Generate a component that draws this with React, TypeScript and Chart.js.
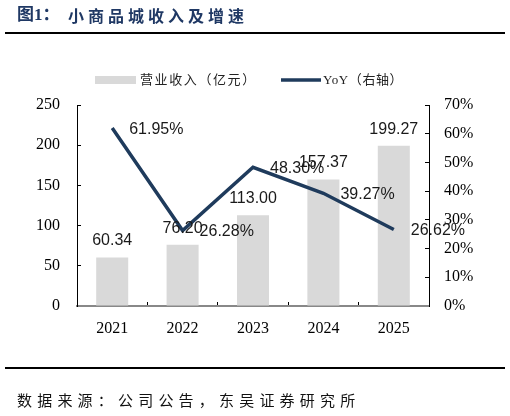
import React, { useEffect, useRef } from "react";
import { Chart, registerables } from "chart.js";

Chart.register(...registerables);

const categories = ["2021", "2022", "2023", "2024", "2025"];
const revenue = [60.34, 76.2, 113.0, 157.37, 199.27];
const yoy = [61.95, 26.28, 48.3, 39.27, 26.62];
const leftTicksMax = 250;
const rightTicksMax = 70;
const revenueName = "营业收入（亿元）";
const yoyName = "YoY（右轴）";
const titleText = "图1：";
const titleRest = "小商品城收入及增速";
const sourceText = "数据来源：公司公告，东吴证券研究所";

const NAVY = "#1f3b5c";
const BAR = "#d9d9d9";

const legendPlugin = {
  id: "customLegend",
  afterDraw(chart: any) {
    const ctx = chart.ctx;
    const ds = chart.data.datasets;
    const bar = ds.find((d: any) => d.type === "bar");
    const line = ds.find((d: any) => d.type === "line");
    ctx.save();
    ctx.font = '13px "Liberation Serif", "Noto Sans CJK SC"';
    ctx.textBaseline = "middle";
    ctx.textAlign = "left";
    try { (ctx as any).letterSpacing = "1.6px"; } catch (e) {}
    ctx.fillStyle = bar.backgroundColor;
    ctx.fillRect(95, 76, 41, 8);
    ctx.fillStyle = "#222";
    ctx.fillText(bar.label, 140, 80.5);
    ctx.strokeStyle = line.borderColor;
    ctx.lineWidth = 3.5;
    ctx.beginPath();
    ctx.moveTo(281, 80);
    ctx.lineTo(321, 80);
    ctx.stroke();
    try { (ctx as any).letterSpacing = "0.6px"; } catch (e) {}
    ctx.fillText(line.label, 323, 80.5);
    ctx.restore();
  },
};

const labelPlugin = {
  id: "valueLabels",
  afterDatasetsDraw(chart: any) {
    const ctx = chart.ctx;
    ctx.save();
    ctx.font = '16px "Liberation Sans", Arial';
    ctx.fillStyle = "#1a1a1a";
    ctx.textBaseline = "middle";
    chart.data.datasets.forEach((d: any, i: number) => {
      const meta = chart.getDatasetMeta(i);
      meta.data.forEach((el: any, j: number) => {
        const v = d.data[j];
        if (d.type === "bar") {
          ctx.textAlign = "center";
          ctx.fillText(v.toFixed(2), el.x, el.y - 16.5);
        } else {
          ctx.textAlign = "left";
          ctx.fillText(v.toFixed(2) + "%", el.x + 17, el.y + 1.5);
        }
      });
    });
    ctx.restore();
  },
};

export default function App() {
  const ref = useRef<HTMLCanvasElement | null>(null);
  useEffect(() => {
    if (!ref.current) return;
    const chart = new Chart(ref.current, {
      type: "bar",
      data: {
        labels: categories,
        datasets: [
          {
            type: "line",
            label: yoyName,
            data: yoy,
            yAxisID: "y1",
            borderColor: NAVY,
            backgroundColor: NAVY,
            borderWidth: 3.5,
            pointRadius: 0,
            tension: 0,
            fill: false,
            order: 0,
          } as any,
          {
            type: "bar",
            label: revenueName,
            data: revenue,
            yAxisID: "y",
            backgroundColor: BAR,
            borderWidth: 0,
            categoryPercentage: 1,
            barPercentage: 0.455,
            order: 1,
          } as any,
        ],
      },
      options: {
        animation: false,
        responsive: false,
        maintainAspectRatio: false,
        layout: { padding: { top: 105, bottom: 0, left: 0, right: 0 } },
        plugins: { legend: { display: false }, tooltip: { enabled: false }, title: { display: false } },
        scales: {
          x: {
            type: "category",
            grid: { drawOnChartArea: false, drawTicks: true, tickLength: -4, color: "#000", offset: true, lineWidth: 1 },
            border: { color: "#888", width: 2 },
            ticks: { font: { family: "Liberation Serif", size: 16 }, color: "#000", padding: 17 },
            afterFit: (s: any) => { s.height = 110; },
          },
          y: {
            position: "left",
            min: 0,
            max: leftTicksMax,
            ticks: { stepSize: 50, font: { family: "Liberation Serif", size: 16 }, color: "#000", padding: 21 },
            grid: { drawOnChartArea: false, drawTicks: true, tickLength: -4, color: "#000" },
            border: { color: "#000", width: 1 },
            afterFit: (s: any) => { s.width = 77; },
          },
          y1: {
            position: "right",
            min: 0,
            max: rightTicksMax,
            ticks: {
              stepSize: 10,
              font: { family: "Liberation Serif", size: 16 },
              color: "#000",
              padding: 19,
              callback: (v: any) => v + "%",
            },
            grid: { drawOnChartArea: false, drawTicks: true, tickLength: -4, color: "#000" },
            border: { color: "#000", width: 1 },
            afterFit: (s: any) => { s.width = 81; },
          },
        },
      } as any,
      plugins: [legendPlugin, labelPlugin],
    });
    return () => chart.destroy();
  }, []);

  return (
    <div style={{ position: "absolute", left: 0, top: 0, width: 510, height: 416, background: "#fff", overflow: "hidden" }}>
      <canvas ref={ref} width={510} height={416} style={{ position: "absolute", left: 0, top: 0, width: 510, height: 416 }} />
      <div
        style={{
          position: "absolute", left: 17, top: 4, height: 22, lineHeight: "22px",
          fontFamily: '"Liberation Serif", "Noto Sans CJK SC", serif', fontWeight: "bold", fontSize: 17,
          color: "#1f3864", whiteSpace: "nowrap",
        }}
      >
        {titleText}
      </div>
      <div
        style={{
          position: "absolute", left: 68, top: 4, height: 22, lineHeight: "22px",
          fontFamily: '"Noto Sans CJK SC", serif', fontWeight: "bold", fontSize: 16, letterSpacing: "4px",
          color: "#1f3864", whiteSpace: "nowrap",
        }}
      >
        {titleRest}
      </div>
      <div style={{ position: "absolute", left: 5, top: 32, width: 500, height: 2, background: "#000" }} />
      <div style={{ position: "absolute", left: 5, top: 367, width: 500, height: 2, background: "#000" }} />
      <div
        style={{
          position: "absolute", left: 17, top: 389, height: 22, lineHeight: "22px",
          fontFamily: '"Noto Sans CJK SC", serif', fontSize: 15, letterSpacing: "5.2px",
          color: "#111", whiteSpace: "nowrap",
        }}
      >
        {sourceText}
      </div>
    </div>
  );
}
